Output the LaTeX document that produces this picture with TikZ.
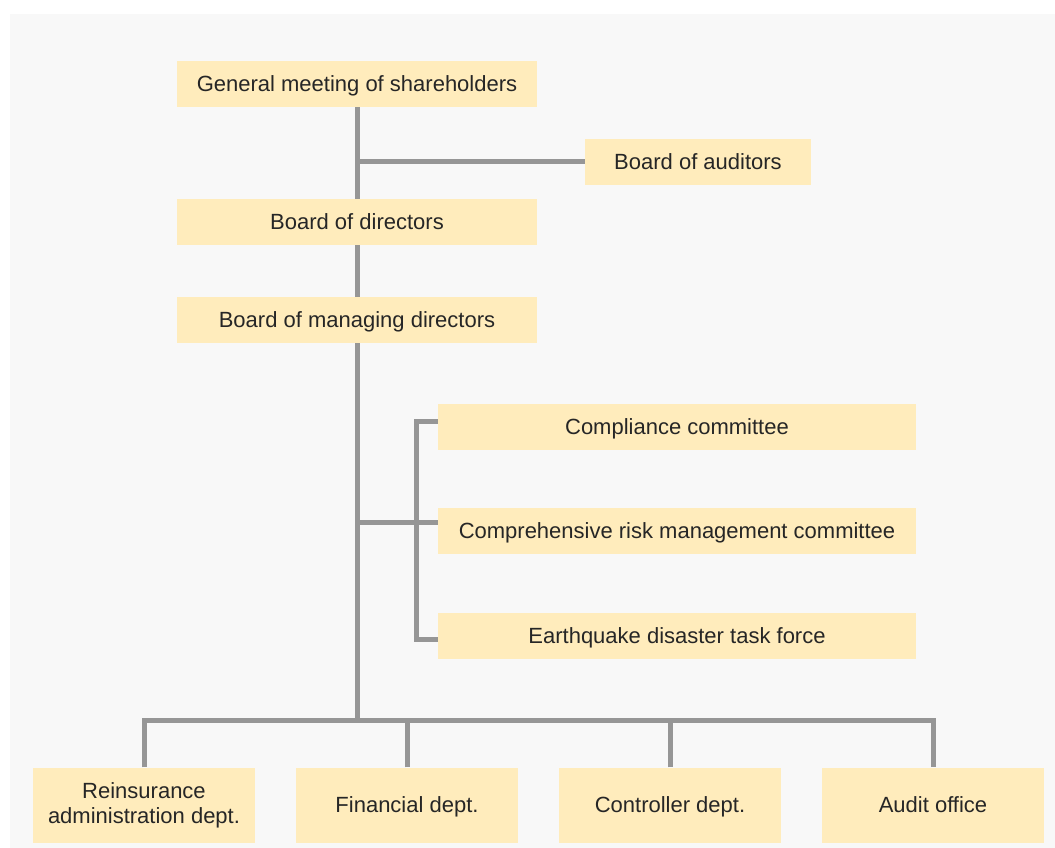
\documentclass[tikz,border=0pt]{standalone}
\usepackage{fontspec}
\setmainfont{Liberation Sans}
\usetikzlibrary{positioning}
\definecolor{boxfill}{RGB}{255,236,188}
\definecolor{linegray}{RGB}{150,150,150}
\definecolor{bgray}{RGB}{248,248,248}

\begin{document}
\begin{tikzpicture}[x=1pt,y=-1pt,
  unit/.style={fill=boxfill,inner sep=0pt,align=center,text=black!85,
    text height=17pt,text depth=1.6pt,font=\fontsize{22}{22}\selectfont},
  wide/.style={unit,minimum width=360pt,minimum height=46pt},
  cmte/.style={unit,minimum width=478pt,minimum height=46pt},
  dept/.style={unit,minimum width=222pt,minimum height=75pt},
  link/.style={draw=linegray,line width=5pt}]
  \useasboundingbox (0,0) rectangle (1055,848);
  \fill[bgray] (10,14) rectangle (1055,848);

  \node[wide] (gm) at (357,84) {General meeting of shareholders};
  \node[unit,minimum width=226pt,minimum height=46pt] (audb) at (698,162) {Board of auditors};
  \node[wide] (bod) at (357,222) {Board of directors};
  \node[wide] (bmd) at (357,320) {Board of managing directors};
  \node[cmte] (comp) at (677,427) {Compliance committee};
  \node[cmte] (risk) at (677,531) {Comprehensive risk management committee};
  \node[cmte] (quake) at (677,636) {Earthquake disaster task force};
  \node[dept,text height=,text depth=,font=\fontsize{22}{25}\selectfont] (reins) at (144,805) {Reinsurance\\administration dept.};
  \node[dept] (fin) at (407,805) {Financial dept.};
  \node[dept] (ctrl) at (670,805) {Controller dept.};
  \node[dept] (audo) at (933,805) {Audit office};

  \coordinate (aj) at (gm.south |- audb.west);
  \coordinate (cj) at (357,522);
  \coordinate (bus) at (357,720);

  \draw[link] (gm.south) -- (bod.north);
  \draw[link] (aj) -- (audb.west);
  \draw[link] (bod.south) -- (bmd.north);
  \draw[link] (bmd.south) -- (bus);
  \draw[link] (cj) -- (cj -| risk.west);
  \draw[link] ([yshift=6pt]comp.west) -| (416,580) |- ([yshift=-3pt]quake.west);
  \draw[link] (reins.north) |- (bus) -| (audo.north);
  \foreach \d in {fin,ctrl}
    \draw[link] (\d.north) -- (\d.north |- bus);
\end{tikzpicture}
\end{document}
